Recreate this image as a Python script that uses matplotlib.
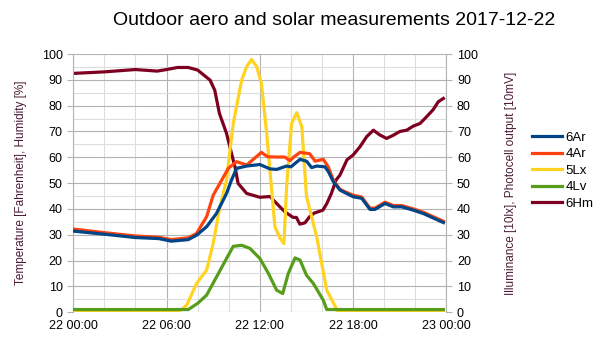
import matplotlib.pyplot as plt

plt.rcParams['font.family'] = ['Liberation Sans', 'DejaVu Sans']

# hours since 2017-12-22 00:00
hm_t = [0, 2, 4, 5.4, 6, 6.7, 7.4, 8, 8.8, 9.1, 9.4, 9.85, 10.2, 10.4, 10.6, 11.15, 12, 12.65,
        13.08, 13.6, 14.14, 14.35, 14.57, 14.9, 15.2, 15.5, 16.05, 16.3, 16.6, 16.9, 17.15, 17.6,
        18.0, 18.44, 18.87, 19.3, 19.7, 20.15, 20.6, 21.0, 21.44, 21.87, 22.3, 22.72, 23.15,
        23.47, 23.8]
hm = [92.5, 93.1, 94.0, 93.4, 94.0, 94.8, 94.8, 93.8, 89.9, 86, 77, 69.4, 61, 56.3, 49.9, 46,
      44.5, 44.8, 42.1, 38.9, 36.7, 36.7, 34.1, 34.6, 37, 38.4, 39.5, 42, 46, 51.2, 53.1, 59,
      60.9, 64.1, 68, 70.5, 68.7, 67.3, 68.6, 70.0, 70.5, 72.1, 73.1, 75.7, 78.5, 81.5, 82.8]

ar6_t = [0, 2, 4, 5.5, 6.3, 7.4, 7.93, 8.58, 9.22, 9.86, 10.18, 10.5, 11.15, 12.0, 12.65, 13.08,
         13.72, 14.0, 14.58, 15.0, 15.33, 15.65, 16.19, 16.4, 16.72, 17.15, 17.5, 18.0, 18.55,
         19.08, 19.4, 20.05, 20.58, 21.12, 21.87, 22.51, 23.8]
ar6 = [31.4, 30.2, 28.9, 28.5, 27.5, 28.1, 29.8, 33.1, 38.3, 46, 51.2, 55.7, 56.6, 57.2, 55.5,
       55.3, 56.6, 56.3, 59.2, 58.5, 56.0, 56.6, 56.3, 54.5, 50.6, 47.3, 46.2, 44.7, 44.1, 39.8,
       39.8, 42.1, 40.8, 40.8, 39.5, 38.2, 34.7]

ar4_t = [0, 2, 4, 5.5, 6.3, 7.4, 7.93, 8.58, 9.0, 9.43, 9.97, 10.5, 11.15, 11.58, 12.1, 12.5,
         13.08, 13.6, 13.94, 14.2, 14.58, 15.2, 15.55, 16.08, 16.4, 16.72, 17.15, 17.5, 18.0,
         18.55, 19.08, 19.4, 20.05, 20.58, 21.12, 21.87, 22.51, 23.8]
ar4 = [32.2, 30.8, 29.5, 29.0, 28.1, 28.8, 30.5, 37, 45.3, 49.9, 55.7, 58.3, 57, 59.2, 61.9,
       60.2, 60.1, 60.1, 58.7, 60.2, 61.9, 61.4, 58.5, 59.2, 56.3, 51.2, 47.6, 46.6, 45.3, 44.6,
       40.3, 40.3, 42.6, 41.3, 41.3, 40.0, 38.7, 35.2]

lx_t = [0, 6.75, 7.3, 7.93, 8.58, 9.0, 9.43, 9.86, 10.08, 10.29, 10.83, 11.15, 11.47, 11.8,
        12.1, 12.44, 12.76, 12.97, 13.3, 13.55, 13.72, 14.04, 14.37, 14.7, 14.97, 15.0, 15.65,
        16.3, 17.04, 23.8]
lx = [0, 0, 2.7, 11.1, 16.3, 26.6, 40.8, 51.2, 62.8, 73.1, 89.9, 95.1, 97.9, 95.1, 88.6,
      69.3, 47.3, 33.1, 28.6, 26.6, 48.6, 73.1, 77.3, 71.8, 47.3, 44.8, 29.3, 8.5, 0, 0]

lv_t = [0, 7.4, 8.0, 8.58, 9.22, 9.86, 10.29, 10.83, 11.36, 12.0, 12.55, 13.08, 13.47, 13.83,
        14.26, 14.58, 15.0, 15.44, 16.08, 16.3, 23.8]
lv = [1, 1, 3.4, 6.6, 13.7, 20.8, 25.5, 25.9, 24.7, 20.8, 15, 8.5, 7.2, 15, 21.0, 20.2, 14.3,
      11.1, 4.6, 1, 1]

tick_hours = [0, 6, 12, 18, 24]
tick_labels = ['22 00:00', '22 06:00', '22 12:00', '22 18:00', '23 00:00']

fig = plt.figure(figsize=(6.05, 3.4), dpi=100)
ax = fig.add_axes([0.121, 0.082, 0.617, 0.759])
lw = 2.3
ax.plot(ar6_t, ar6, color='#004586', lw=lw, label='6Ar', zorder=5)
ax.plot(ar4_t, ar4, color='#ff420e', lw=lw, label='4Ar', zorder=4)
ax.plot(lx_t, lx, color='#ffd320', lw=lw, label='5Lx', zorder=3)
ax.plot(lv_t, lv, color='#579d1c', lw=lw, label='4Lv', zorder=3)
ax.plot(hm_t, hm, color='#7e0021', lw=lw, label='6Hm', zorder=2)

ax.set_xlim(0, 24)
ax.set_ylim(0, 100)
ax.set_xticks(tick_hours)
ax.set_xticklabels(tick_labels)
ax.set_xticks(range(0, 25, 2), minor=True)
ax.set_yticks(range(0, 101, 10))
ax.set_yticks(range(0, 101, 5), minor=True)
ax.grid(True, which='major', color='#b3b3b3', lw=0.8)
ax.grid(True, which='minor', color='#dddddd', lw=0.8)
ax.set_axisbelow(True)
for s in ['top', 'bottom']:
    ax.spines[s].set_visible(False)
for s in ['left', 'right']:
    ax.spines[s].set_color('#b3b3b3')
ax.tick_params(which='both', color='#b3b3b3', labelsize=9, length=4)
ax.tick_params(which='minor', length=0)
ax.tick_params(axis='x', length=0, pad=6)
ax.set_ylabel('Temperature [Fahrenheit], Humidity [%]', color='#4b1a35', fontsize=8.5)
ax.yaxis.set_label_coords(-0.123, 0.5)

ax2 = ax.twinx()
ax2.set_ylim(0, 100)
ax2.set_yticks(range(0, 101, 10))
ax2.tick_params(color='#b3b3b3', labelsize=9, length=4)
for s in ax2.spines.values():
    s.set_visible(False)
ax2.set_ylabel('Illuminance [10lx], Photocell output [10mV]', color='#4b1a35', fontsize=8.5)
ax2.yaxis.set_label_coords(1.157, 0.5)

fig.text(0.553, 0.94, 'Outdoor aero and solar measurements 2017-12-22', ha='center', va='center',
         fontsize=14)
ax.legend(loc='center left', bbox_to_anchor=(1.197, 0.548), frameon=False, fontsize=9.5,
          handlelength=2.3, handletextpad=0.25, labelspacing=0.33)

fig.savefig('out.png', dpi=100)
